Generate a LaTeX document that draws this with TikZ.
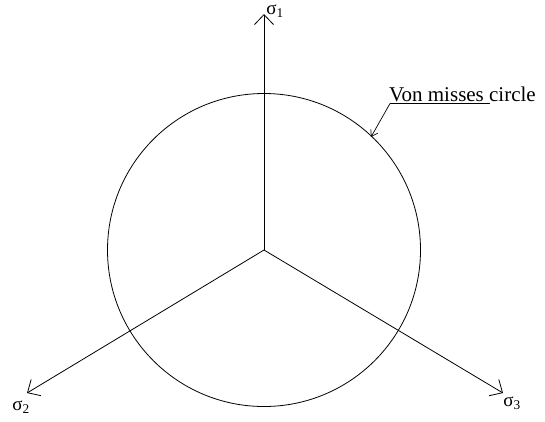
\documentclass[tikz,border=0pt]{standalone}
\usepackage{fontspec}
\setmainfont{Liberation Serif}
\usetikzlibrary{arrows.meta}
\begin{document}
\begin{tikzpicture}[x=1pt,y=-1pt,
  axis/.style={line width=0.8pt,-{Straight Barb[length=10pt,width=19pt,line width=0.8pt]}},
  lead/.style={line width=0.7pt,-{Straight Barb[length=6pt,width=8pt,line width=0.7pt]}},
  lbl/.style={inner sep=0pt,font=\fontsize{19}{22}\selectfont},
  txt/.style={inner sep=0pt,font=\fontsize{21}{25}\selectfont}]
\useasboundingbox (0,0) rectangle (545,421);
\coordinate (O) at (264,250);
\coordinate (t1) at (264,14);
\coordinate (t2) at (27,393);
\coordinate (t3) at (503,393);
\draw[line width=0.8pt] (O) circle[radius=156.5];
\draw[axis] (O) -- (t1);
\draw[axis] (O) -- (t2);
\draw[axis] (O) -- (t3);
\node[lbl] (s1) at (275,11) {σ\textsubscript{1}};
\node[lbl] (s2) at (21,407) {σ\textsubscript{2}};
\node[lbl] (s3) at (512,403) {σ\textsubscript{3}};
\node[txt,anchor=base west] (vm) at (389,101) {Von misses circle};
\coordinate (c1) at (390,103.5);
\coordinate (c2) at (490,103.5);
\coordinate (tip) at (371,137);
\draw[line width=0.7pt] (c2) -- (c1);
\draw[lead] (c1) -- (tip);
\end{tikzpicture}
\end{document}
